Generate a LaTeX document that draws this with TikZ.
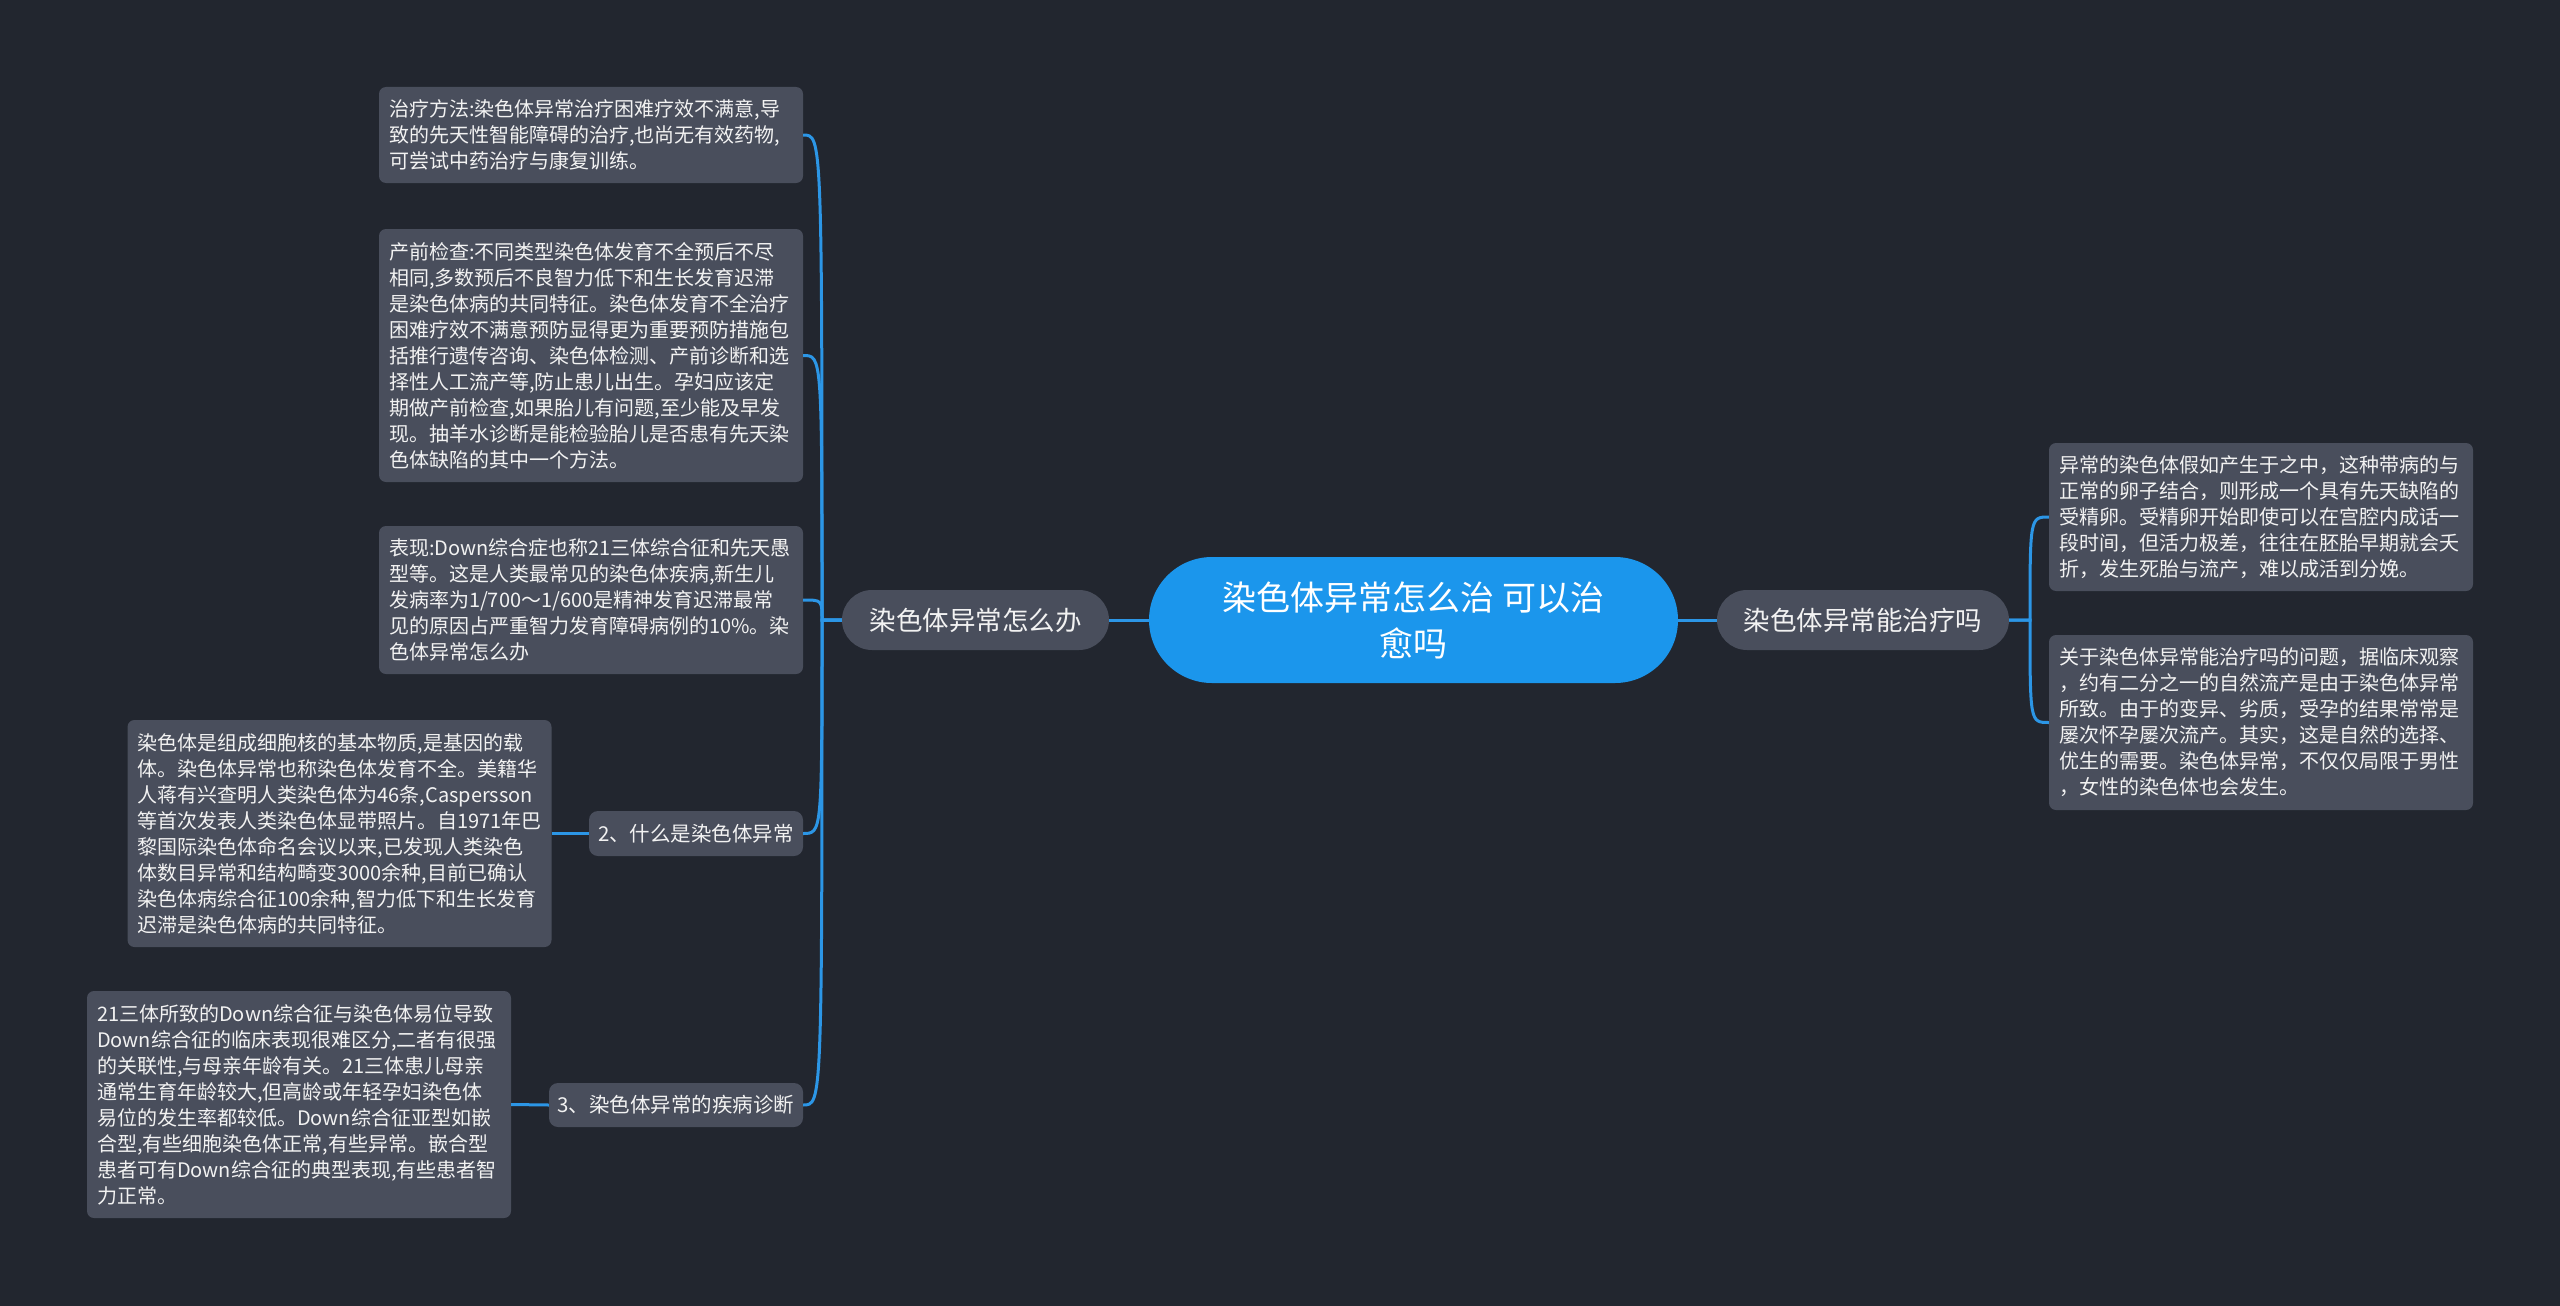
\documentclass[tikz,border=0pt]{standalone}
\usepackage{fontspec}
\setmainfont{Noto Sans CJK SC}
\definecolor{bgc}{HTML}{22262F}
\definecolor{boxc}{HTML}{494E5C}
\definecolor{linec}{HTML}{2C96E6}
\definecolor{mainc}{HTML}{1B96EC}
\definecolor{txtc}{HTML}{F2F2F2}
\tikzset{
  conn/.style={draw=linec, line width=3pt},
  leafbox/.style={rectangle, rounded corners=7pt, fill=boxc, text=txtc,
    inner xsep=10pt, inner ysep=0pt, text width=404pt, align=left,
    font=\fontsize{20}{26}\selectfont},
  subbox/.style={rectangle, rounded corners=9pt, fill=boxc, text=txtc,
    inner sep=0pt, align=center, font=\fontsize{20.5}{26}\selectfont},
  firstbox/.style={rectangle, rounded corners=30pt, fill=boxc, text=txtc,
    inner sep=0pt, minimum height=60pt, align=center, font=\fontsize{26.5}{34}\selectfont},
  rootbox/.style={rectangle, rounded corners=63pt, fill=mainc, text=white,
    inner sep=0pt, minimum width=529pt, minimum height=126pt, align=center,
    font=\fontsize{34}{46}\selectfont}
}
\begin{document}
\begin{tikzpicture}[x=1pt,y=-1pt]
\fill[bgc] (0,0) rectangle (2560,1306);
\useasboundingbox (0,0) rectangle (2560,1306);

\node[rootbox] (root) at (1413.5,620) {染色体异常怎么治 可以治\\愈吗};
\node[firstbox, minimum width=267pt] (L) at (975.5,620) {染色体异常怎么办};
\node[firstbox, minimum width=292pt] (R) at (1863,620) {染色体异常能治疗吗};

\node[leafbox, minimum height=96pt] (b1) at (591,135) {治疗方法:染色体异常治疗困难疗效不满意,导\\
致的先天性智能障碍的治疗,也尚无有效药物,\\
可尝试中药治疗与康复训练。};

\node[leafbox, minimum height=253pt] (b2) at (591,355.5) {产前检查:不同类型染色体发育不全预后不尽\\
相同,多数预后不良智力低下和生长发育迟滞\\
是染色体病的共同特征。染色体发育不全治疗\\
困难疗效不满意预防显得更为重要预防措施包\\
括推行遗传咨询、染色体检测、产前诊断和选\\
择性人工流产等,防止患儿出生。孕妇应该定\\
期做产前检查,如果胎儿有问题,至少能及早发\\
现。抽羊水诊断是能检验胎儿是否患有先天染\\
色体缺陷的其中一个方法。};

\node[leafbox, minimum height=148pt] (b3) at (591,600) {表现:Down综合症也称21三体综合征和先天愚\\
型等。这是人类最常见的染色体疾病,新生儿\\
发病率为1/700～1/600是精神发育迟滞最常\\
见的原因占严重智力发育障碍病例的10\%。染\\
色体异常怎么办};

\node[subbox, minimum width=214pt, minimum height=45pt] (n2) at (696,833.5) {2、什么是染色体异常};
\node[subbox, minimum width=254pt, minimum height=44pt] (n3) at (676,1105) {3、染色体异常的疾病诊断};

\node[leafbox, minimum height=227pt] (b4) at (339.5,833.5) {染色体是组成细胞核的基本物质,是基因的载\\
体。染色体异常也称染色体发育不全。美籍华\\
人蒋有兴查明人类染色体为46条,Caspersson\\
等首次发表人类染色体显带照片。自1971年巴\\
黎国际染色体命名会议以来,已发现人类染色\\
体数目异常和结构畸变3000余种,目前已确认\\
染色体病综合征100余种,智力低下和生长发育\\
迟滞是染色体病的共同特征。};

\node[leafbox, minimum height=227pt] (b5) at (299,1104.5) {21三体所致的Down综合征与染色体易位导致\\
Down综合征的临床表现很难区分,二者有很强\\
的关联性,与母亲年龄有关。21三体患儿母亲\\
通常生育年龄较大,但高龄或年轻孕妇染色体\\
易位的发生率都较低。Down综合征亚型如嵌\\
合型,有些细胞染色体正常,有些异常。嵌合型\\
患者可有Down综合征的典型表现,有些患者智\\
力正常。};

\node[leafbox, minimum height=148pt] (b6) at (2261,517) {异常的染色体假如产生于之中，这种带病的与\\
正常的卵子结合，则形成一个具有先天缺陷的\\
受精卵。受精卵开始即使可以在宫腔内成话一\\
段时间，但活力极差，往往在胚胎早期就会夭\\
折，发生死胎与流产，难以成活到分娩。};

\node[leafbox, minimum height=175pt] (b7) at (2261,722.5) {关于染色体异常能治疗吗的问题，据临床观察\\
，约有二分之一的自然流产是由于染色体异常\\
所致。由于的变异、劣质，受孕的结果常常是\\
屡次怀孕屡次流产。其实，这是自然的选择、\\
优生的需要。染色体异常，不仅仅局限于男性\\
，女性的染色体也会发生。};

\coordinate (jl) at (822,620);
\coordinate (jr) at (2030,620);

\draw[conn] (root.west) -- (L.east);
\draw[conn] (root.east) -- (R.west);

\foreach \c in {b1,b2,b3,n2,n3}{
  \draw[conn] (L.west) -- (jl) .. controls (jl |- \c.east) .. (\c.east);
}
\foreach \c in {b6,b7}{
  \draw[conn] (R.east) -- (jr) .. controls (jr |- \c.west) .. (\c.west);
}
\draw[conn] (n2.west) -- (b4.east);
\draw[conn] (n3.west) -- (b5.east);
\end{tikzpicture}
\end{document}
